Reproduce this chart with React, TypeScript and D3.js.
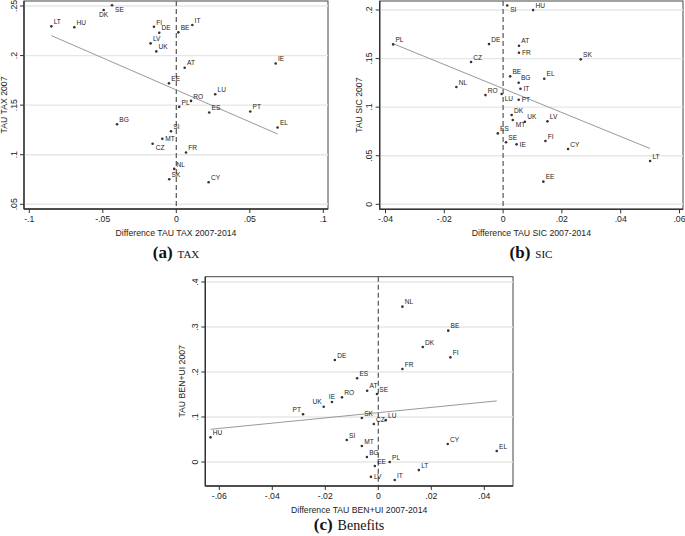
import React from "react";
import * as d3 from "d3";

// ---------- Data ----------
const taxCountries = ["LT","HU","DK","SE","FI","DE","LV","UK","EE","BE","IT","AT","IE","LU","RO","PL","ES","PT","EL","SI","MT","CZ","BG","FR","NL","SK","CY"];
const taxDiff = [-0.085,-0.0694,-0.0494,-0.0437,-0.0152,-0.0116,-0.0175,-0.0136,-0.005,0.0014,0.0109,0.0057,0.0676,0.0265,0.010,0.002,0.0224,0.0503,0.0689,-0.0036,-0.0095,-0.0161,-0.0403,0.0066,-0.0014,-0.0048,0.022];
const taxLevel = [0.2295,0.2285,0.246,0.2507,0.229,0.223,0.2123,0.2042,0.172,0.2234,0.2308,0.1877,0.192,0.161,0.1543,0.1483,0.1426,0.1436,0.1275,0.1237,0.116,0.111,0.1308,0.1022,0.0857,0.0753,0.0722];

const sicCountries = ["PL","DE","CZ","NL","RO","LU","SI","HU","AT","FR","SK","BE","BG","EL","IT","PT","DK","UK","MT","LV","ES","SE","IE","FI","CY","LT","EE"];
const sicDiff = [-0.0374,-0.0048,-0.0109,-0.0159,-0.006,-0.0005,0.0014,0.0102,0.0054,0.0054,0.0264,0.0024,0.0053,0.014,0.0059,0.0053,0.0029,0.0074,0.0033,0.0151,-0.0018,0.001,0.0046,0.0144,0.0221,0.05,0.0137];
const sicLevel = [0.1646,0.1649,0.1464,0.1207,0.1124,0.1135,0.2047,0.1999,0.1632,0.156,0.1492,0.1317,0.1251,0.1292,0.1189,0.1076,0.0919,0.085,0.0867,0.0854,0.073,0.0638,0.0617,0.0651,0.0569,0.0445,0.0233];

const benCountries = ["NL","BE","DK","FI","FR","DE","ES","AT","SE","RO","IE","UK","PT","HU","SK","LU","CZ","SI","MT","BG","EE","PL","LT","LV","IT","CY","EL"];
const benDiff = [0.0091,0.0264,0.0168,0.0272,0.0091,-0.0164,-0.008,-0.0042,-0.0005,-0.0137,-0.0175,-0.0206,-0.0284,-0.0633,-0.0062,0.0028,-0.0017,-0.0119,-0.0062,-0.0043,-0.0013,0.0043,0.0153,-0.0028,0.0062,0.0262,0.0447];
const benLevel = [0.3452,0.2919,0.2556,0.2326,0.2067,0.2267,0.186,0.1585,0.151,0.1437,0.1333,0.1229,0.106,0.0548,0.0978,0.093,0.0844,0.049,0.0356,0.011,-0.009,0,-0.018,-0.033,-0.04,0.04,0.0244];

const taxXTicks = [-0.1,-0.05,0,0.05,0.1];
const taxYTicks = [0.05,0.1,0.15,0.2,0.25];
const sicXTicks = [-0.04,-0.02,0,0.02,0.04,0.06];
const sicYTicks = [0,0.05,0.1,0.15,0.2];
const benXTicks = [-0.06,-0.04,-0.02,0,0.02,0.04];
const benYTicks = [0,0.1,0.2,0.3,0.4];

// label clock positions (style)
const taxLabelPos: Record<string, number> = { DK: 6, SE: 4, MT: 3, CZ: 4 };
const sicLabelPos: Record<string, number> = { LU: 4, SI: 4, FR: 3, IT: 3, PT: 3, MT: 4, IE: 3 };
const benLabelPos: Record<string, number> = { IE: 12, UK: 11, PT: 11, LV: 3 };

const FONT = "'Liberation Sans', Arial, Helvetica, sans-serif";
const SERIF = "'Liberation Serif', 'DejaVu Serif', serif";

function fmt(v: number): string {
  if (Math.abs(v) < 1e-12) return "0";
  const s = String(+v.toFixed(4));
  return s.replace(/^(-?)0\./, "$1.");
}

type PanelProps = {
  countries: string[];
  xs: number[];
  ys: number[];
  xTicks: number[];
  yTicks: number[];
  xRange: [number, number];
  yRange: [number, number];
  frame: { l: number; r: number; t: number; b: number };
  xTitle: string;
  yTitle: string;
  labelPos: Record<string, number>;
  yTitleOffset: number;
};

function Panel(p: PanelProps) {
  const x = d3.scaleLinear().domain([p.xTicks[0], p.xTicks[p.xTicks.length - 1]]).range(p.xRange);
  const y = d3.scaleLinear().domain([p.yTicks[0], p.yTicks[p.yTicks.length - 1]]).range(p.yRange);
  const { l, r, t, b } = p.frame;
  // OLS fit
  const mx = d3.mean(p.xs)!;
  const my = d3.mean(p.ys)!;
  let sxy = 0, sxx = 0;
  p.xs.forEach((xv, i) => { sxy += (xv - mx) * (p.ys[i] - my); sxx += (xv - mx) ** 2; });
  const slope = sxy / sxx;
  const icpt = my - slope * mx;
  const [x0, x1] = d3.extent(p.xs) as [number, number];
  const line = d3.line<number>().x((d) => x(d)).y((d) => y(icpt + slope * d));

  const lab = (name: string, px: number, py: number) => {
    const pos = p.labelPos[name] ?? 1;
    let dx = 2.3, dy = -2.3, anchor: "start" | "middle" | "end" = "start";
    if (pos === 3) { dx = 3; dy = 2.3; }
    else if (pos === 4) { dx = 3; dy = 6.5; }
    else if (pos === 6) { dx = 0; dy = 7.5; anchor = "middle"; }
    else if (pos === 11) { dx = -2; dy = -2.3; anchor = "end"; }
    else if (pos === 12) { dx = 0; dy = -3; anchor = "middle"; }
    return (
      <text key={"l" + name} x={px + dx} y={py + dy} textAnchor={anchor} fontSize={6.6} fill="#222" fontFamily={FONT}>
        {name}
      </text>
    );
  };

  return (
    <g>
      <rect x={l} y={t} width={r - l} height={b - t} fill="#fff" stroke="#444" strokeWidth={1} />
      {p.yTicks.map((v) => (
        <line key={"g" + v} x1={l} x2={r} y1={y(v)} y2={y(v)} stroke="#e6e6e6" strokeWidth={1.4} />
      ))}
      <line x1={x(0)} x2={x(0)} y1={t} y2={b} stroke="#555" strokeWidth={1.2} strokeDasharray="5,3" />
      <path d={line([x0, x1]) || ""} fill="none" stroke="#999" strokeWidth={1} />
      {p.countries.map((c, i) => (
        <circle key={"p" + c} cx={x(p.xs[i])} cy={y(p.ys[i])} r={1.3} fill="#333" />
      ))}
      {p.countries.map((c, i) => lab(c, x(p.xs[i]), y(p.ys[i])))}
      {/* axes */}
      <line x1={l} x2={l} y1={t} y2={b} stroke="#333" strokeWidth={1.4} />
      <line x1={l} x2={r} y1={b} y2={b} stroke="#333" strokeWidth={1.4} />
      {p.xTicks.map((v) => (
        <g key={"xt" + v}>
          <line x1={x(v)} x2={x(v)} y1={b} y2={b + 4} stroke="#333" strokeWidth={1} />
          <text x={x(v)} y={b + 13} textAnchor="middle" fontSize={8.7} fill="#222" fontFamily={FONT}>{fmt(v)}</text>
        </g>
      ))}
      {p.yTicks.map((v) => (
        <g key={"yt" + v}>
          <line x1={l - 4} x2={l} y1={y(v)} y2={y(v)} stroke="#333" strokeWidth={1} />
          <text transform={`translate(${l - 7.5},${y(v)}) rotate(-90)`} textAnchor="middle" fontSize={8.7} fill="#222" fontFamily={FONT}>{fmt(v)}</text>
        </g>
      ))}
      <text x={(l + r) / 2} y={b + 26.5} textAnchor="middle" fontSize={8.7} fill="#222" fontFamily={FONT}>{p.xTitle}</text>
      <text transform={`translate(${l - p.yTitleOffset},${(t + b) / 2}) rotate(-90)`} textAnchor="middle" fontSize={8.7} fill="#222" fontFamily={FONT}>{p.yTitle}</text>
    </g>
  );
}

export default function App() {
  return (
    <div style={{ position: "absolute", left: 0, top: 0, width: 685, height: 536, background: "#fff" }}>
      <svg width={685} height={536} viewBox="0 0 685 536">
        <rect x={0} y={0} width={685} height={536} fill="#fff" />
        <Panel
          countries={taxCountries} xs={taxDiff} ys={taxLevel}
          xTicks={taxXTicks} yTicks={taxYTicks}
          xRange={[29.3, 323.3]} yRange={[204.3, 6]}
          frame={{ l: 24, r: 328, t: 1, b: 209 }}
          xTitle="Difference TAU TAX 2007-2014" yTitle="TAU TAX 2007"
          labelPos={taxLabelPos} yTitleOffset={17}
        />
        <Panel
          countries={sicCountries} xs={sicDiff} ys={sicLevel}
          xTicks={sicXTicks} yTicks={sicYTicks}
          xRange={[385.5, 679.5]} yRange={[204.3, 10]}
          frame={{ l: 379.7, r: 683, t: 1, b: 209.3 }}
          xTitle="Difference TAU SIC 2007-2014" yTitle="TAU SIC 2007"
          labelPos={sicLabelPos} yTitleOffset={17.5}
        />
        <Panel
          countries={benCountries} xs={benDiff} ys={benLevel}
          xTicks={benXTicks} yTicks={benYTicks}
          xRange={[219.3, 484.3]} yRange={[462, 282]}
          frame={{ l: 205.3, r: 513, t: 276.7, b: 486 }}
          xTitle="Difference TAU BEN+UI 2007-2014" yTitle="TAU BEN+UI 2007"
          labelPos={benLabelPos} yTitleOffset={20}
        />
        <text x={176} y={258} textAnchor="middle" fontFamily={SERIF} fill="#111">
          <tspan fontWeight="bold" fontSize={17}>(a)</tspan>
          <tspan fontSize={11} dx={5}>TAX</tspan>
        </text>
        <text x={531} y={258} textAnchor="middle" fontFamily={SERIF} fill="#111">
          <tspan fontWeight="bold" fontSize={17}>(b)</tspan>
          <tspan fontSize={11} dx={5}>SIC</tspan>
        </text>
        <text x={349} y={530} textAnchor="middle" fontFamily={SERIF} fill="#111">
          <tspan fontWeight="bold" fontSize={17}>(c)</tspan>
          <tspan fontSize={14} dx={5}>Benefits</tspan>
        </text>
      </svg>
    </div>
  );
}
